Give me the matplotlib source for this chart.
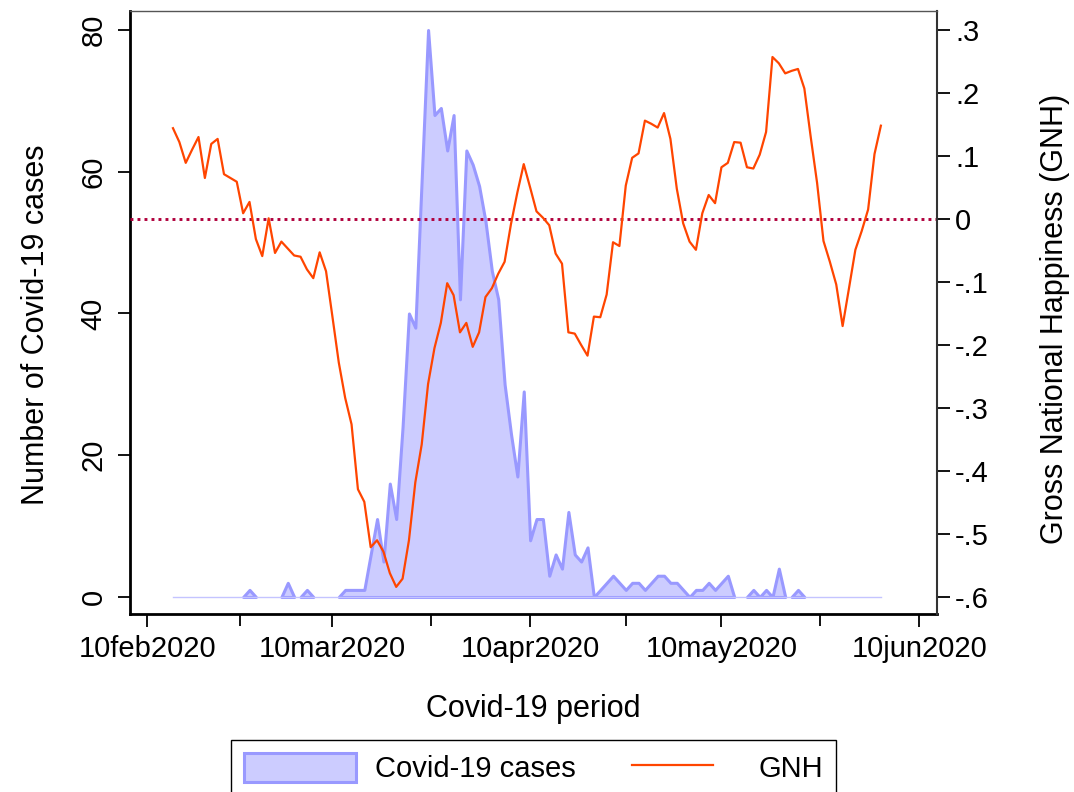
import numpy as np
import pandas as pd
import matplotlib
matplotlib.use("Agg")
import matplotlib.pyplot as plt
import matplotlib.dates as mdates
from matplotlib.patches import Patch
from matplotlib.lines import Line2D
from matplotlib.legend_handler import HandlerLine2D

# daily data, 14feb2020 - 04jun2020
start_date = "2020-02-14"
cases = [0, 0, 0, 0, 0, 0, 0, 0, 0, 0, 0, 0,
         1, 0, 0, 0, 0, 0, 2, 0, 0, 1, 0, 0, 0, 0, 0, 1, 1, 1, 1,
         6, 11, 5, 16, 11, 24, 40, 38, 59, 80,
         68, 69, 63, 68, 42, 63, 61, 58, 53, 46,
         42, 30, 23, 17, 29, 8, 11, 11, 3, 6,
         4, 12, 6, 5, 7, 0, 1, 2, 3, 2,
         1, 2, 2, 1, 2, 3, 3, 2, 2, 1,
         0, 1, 1, 2, 1, 2, 3, 0, 0, 0,
         1, 0, 1, 0, 4, 0, 0, 1, 0, 0,
         0, 0, 0, 0, 0, 0, 0, 0, 0, 0, 0]
gnh = [0.144, 0.122, 0.089, 0.110, 0.130, 0.065, 0.119, 0.127, 0.071, 0.065,
       0.059, 0.009, 0.027, -0.032, -0.059, 0.001, -0.054, -0.036, -0.047, -0.058,
       -0.060, -0.080, -0.094, -0.053, -0.083, -0.155, -0.228, -0.284, -0.326, -0.429,
       -0.449, -0.521, -0.510, -0.528, -0.562, -0.584, -0.571, -0.510, -0.418, -0.358,
       -0.262, -0.205, -0.165, -0.102, -0.121, -0.180, -0.165, -0.203, -0.180, -0.124,
       -0.110, -0.087, -0.068, -0.008, 0.042, 0.087, 0.050, 0.012, 0.002, -0.010,
       -0.055, -0.071, -0.180, -0.182, -0.200, -0.217, -0.155, -0.156, -0.120, -0.037,
       -0.043, 0.053, 0.097, 0.104, 0.156, 0.151, 0.145, 0.168, 0.127, 0.048,
       -0.007, -0.036, -0.049, 0.009, 0.038, 0.025, 0.082, 0.089, 0.122, 0.121,
       0.082, 0.080, 0.102, 0.138, 0.257, 0.247, 0.231, 0.235, 0.238, 0.207,
       0.130, 0.057, -0.035, -0.068, -0.104, -0.170, -0.110, -0.049, -0.019, 0.015,
       0.103, 0.148]
tick_dates = ["2020-02-10", "2020-03-10", "2020-04-10", "2020-05-10", "2020-06-10"]
left_ticks = [0, 20, 40, 60, 80]
right_ticks = [0.3, 0.2, 0.1, 0.0, -0.1, -0.2, -0.3, -0.4, -0.5, -0.6]
right_labels = [".3", ".2", ".1", "0", "-.1", "-.2", "-.3", "-.4", "-.5", "-.6"]

dates = pd.date_range(start_date, periods=len(cases), freq="D")
cs = np.array(cases)

plt.rcParams["font.family"] = ["Liberation Sans", "DejaVu Sans"]

fill_c = "#ccccff"
edge_c = "#9999ff"
line_c = "#ff4500"
dot_c = "#b0003c"

fig = plt.figure(figsize=(10.74, 7.92), dpi=100)
ax = fig.add_axes([0.12104, 0.22475, 0.7514, 0.76136])
ax2 = ax.twinx()

# thin baseline where there are no cases, then one outlined area per run of cases
ax.plot(dates, np.zeros(len(cs)), color="#c4c4ff", lw=1.0)
i = 0
while i < len(cs):
    if cs[i] > 0:
        j = i
        while j + 1 < len(cs) and cs[j + 1] > 0:
            j += 1
        a, b = max(i - 1, 0), min(j + 1, len(cs) - 1)
        ax.fill_between(dates[a:b + 1], 0, cs[a:b + 1], facecolor=fill_c,
                        edgecolor=edge_c, lw=2.2)
        i = j + 1
    else:
        i += 1

ax2.axhline(0, color=dot_c, lw=2.1, ls=(0, (1, 1.4)))
ax2.plot(dates, gnh, color=line_c, lw=1.6)

d0 = mdates.date2num(pd.Timestamp("2020-02-10"))
ax.set_xlim(d0 - 2.74, d0 + 123.8)
ax.set_ylim(-2.4, 82.68)
ax2.set_ylim(-0.627, 0.330)

# x axis
tk = [mdates.date2num(pd.Timestamp(t)) for t in tick_dates]
ax.set_xticks(tk)
ax.set_xticklabels([pd.Timestamp(t).strftime("%d%b%Y").lower() for t in tick_dates])
ax.set_xticks([(a + b) / 2 for a, b in zip(tk[:-1], tk[1:])], minor=True)
ax.tick_params(axis="x", which="major", length=9, width=1.3, pad=6, labelsize=21)
ax.tick_params(axis="x", which="minor", length=8.5, width=1.3)

# left axis
ax.set_yticks(left_ticks)
ax.set_yticklabels([str(v) for v in left_ticks], rotation=90, va="center")
ax.tick_params(axis="y", length=9, width=1.3, pad=7, labelsize=21)

# right axis
ax2.set_yticks(right_ticks)
ax2.set_yticklabels(right_labels)
ax2.tick_params(axis="y", length=9, width=1.3, pad=4, labelsize=21)

for a in (ax, ax2):
    for s in a.spines.values():
        s.set_visible(False)
ax.spines["left"].set_visible(True)
ax.spines["left"].set_linewidth(2.0)
ax.spines["bottom"].set_visible(True)
ax.spines["bottom"].set_linewidth(2.0)
ax2.spines["right"].set_visible(True)
ax2.spines["right"].set_linewidth(1.5)
ax2.spines["right"].set_color("#333333")
ax2.spines["top"].set_visible(True)
ax2.spines["top"].set_linewidth(1.0)
ax2.spines["top"].set_color("#555555")

ax.set_xlabel("Covid-19 period", fontsize=22)
ax.xaxis.set_label_coords(0.5, -0.1327)
ax.set_ylabel("Number of Covid-19 cases", fontsize=22)
ax.yaxis.set_label_coords(-0.098, 0.48)
ax2.set_ylabel("Gross National Happiness (GNH)", fontsize=22)
ax2.yaxis.set_label_coords(1.1276, 0.49)


class ShortLine(HandlerLine2D):
    def get_xdata(self, legend, xdescent, ydescent, width, height, fontsize):
        x0 = -xdescent + 0.036 * width
        x1 = -xdescent + width - 0.232 * width
        return np.array([x0, x1]), np.array([(x0 + x1) / 2])


h1 = Patch(facecolor=fill_c, edgecolor=edge_c, lw=2.2)
h2 = Line2D([], [], color=line_c, lw=1.6)
leg = ax.legend([h1, h2], ["Covid-19 cases", "GNH"], ncol=2,
                loc="upper center", bbox_to_anchor=(0.5, -0.209),
                borderaxespad=0, fontsize=21, frameon=True, fancybox=False,
                edgecolor="black", framealpha=1, borderpad=0.45,
                handlelength=3.83, handleheight=1.13, handletextpad=0.65,
                columnspacing=1.78, handler_map={h2: ShortLine()})
leg.get_frame().set_linewidth(1.0)

fig.savefig("out.png", dpi=100)
